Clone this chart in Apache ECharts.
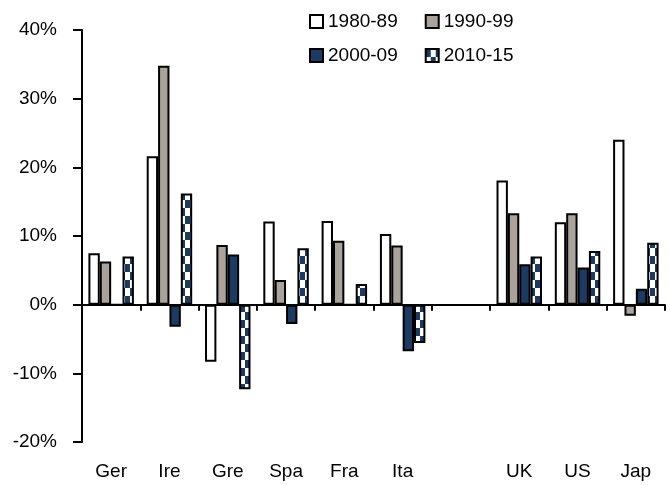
<!DOCTYPE html>
<html>
<head>
<meta charset="utf-8">
<script src="https://cdn.jsdelivr.net/npm/echarts@6/dist/echarts.min.js"></script>
<style>
  html, body { margin: 0; padding: 0; background: #fff; }
  #chart { width: 670px; height: 485px; }
</style>
</head>
<body>
<div id="chart"></div>
<script>
const categories = ['Ger', 'Ire', 'Gre', 'Spa', 'Fra', 'Ita', '', 'UK', 'US', 'Jap']
const seriesNames = ['1980-89', '1990-99', '2000-09', '2010-15']
const s1980 = [7.5, 21.6, -8.3, 12.1, 12.2, 10.3, null, 18.1, 12.0, 24.0]
const s1990 = [6.3, 34.8, 8.7, 3.6, 9.3, 8.6, null, 13.3, 13.3, -1.6]
const s2000 = [0, -3.2, 7.3, -2.8, 0, -6.8, null, 5.9, 5.4, 2.3]
const s2010 = [7.0, 16.2, -12.3, 8.2, 3.0, -5.6, null, 7.0, 7.8, 9.0]
const yTicks = [-20, -10, 0, 10, 20, 30, 40]

const navy = '#1d3a63'
const grey = '#aaa39c'
const font = 'Liberation Sans, Arial, sans-serif'

// checker pattern for the 2010-15 bars
function makeChecker() {
  const c = document.createElement('canvas')
  c.width = 10
  c.height = 16
  const ctx = c.getContext('2d')
  ctx.fillStyle = '#ffffff'
  ctx.fillRect(0, 0, 10, 16)
  ctx.fillStyle = navy
  ctx.fillRect(0, 0, 5, 8)
  ctx.fillRect(5, 8, 5, 8)
  return c
}
const checker = { image: makeChecker(), repeat: 'repeat' }

const fills = ['#ffffff', grey, navy, checker]
const values = [s1980, s1990, s2000, s2010]

const chart = echarts.init(document.getElementById('chart'))

const legendBase = {
  left: 304,
  itemWidth: 13,
  itemHeight: 13,
  itemGap: 27,
  icon: 'rect',
  textStyle: { fontFamily: font, fontSize: 19, color: '#000' },
  selectedMode: false
}

chart.setOption({
  animation: false,
  grid: { left: 82, right: 5, top: 30, bottom: 43, containLabel: false },
  legend: [
    Object.assign({ top: 7, data: [seriesNames[0], seriesNames[1]] }, legendBase),
    Object.assign({ top: 41, data: [seriesNames[2], seriesNames[3]] }, legendBase)
  ],
  xAxis: [{
    type: 'category',
    data: categories,
    position: 'bottom',
    axisLine: { show: false, onZero: false },
    axisTick: { show: false },
    axisLabel: { fontFamily: font, fontSize: 19, color: '#000', margin: 20, interval: 0 }
  }, {
    type: 'category',
    data: categories,
    position: 'bottom',
    axisLine: { show: true, onZero: true, lineStyle: { color: '#000', width: 2 } },
    axisTick: { show: true, length: 6, alignWithLabel: false, interval: 0, lineStyle: { color: '#000', width: 2 } },
    axisLabel: { show: false }
  }],
  yAxis: {
    type: 'value',
    min: yTicks[0],
    max: yTicks[yTicks.length - 1],
    interval: 10,
    axisLine: { show: true, lineStyle: { color: '#000', width: 2 } },
    axisTick: { show: true, length: 9, lineStyle: { color: '#000', width: 2 } },
    splitLine: { show: false },
    axisLabel: { fontFamily: font, fontSize: 19, color: '#000', margin: 25, formatter: '{value}%' }
  },
  series: seriesNames.map((name, i) => ({
    name: name,
    type: 'bar',
    xAxisIndex: 0,
    data: values[i],
    barGap: '0%',
    barCategoryGap: '22%',
    itemStyle: { color: fills[i], borderColor: '#000', borderWidth: 2 }
  }))
})
</script>
</body>
</html>
